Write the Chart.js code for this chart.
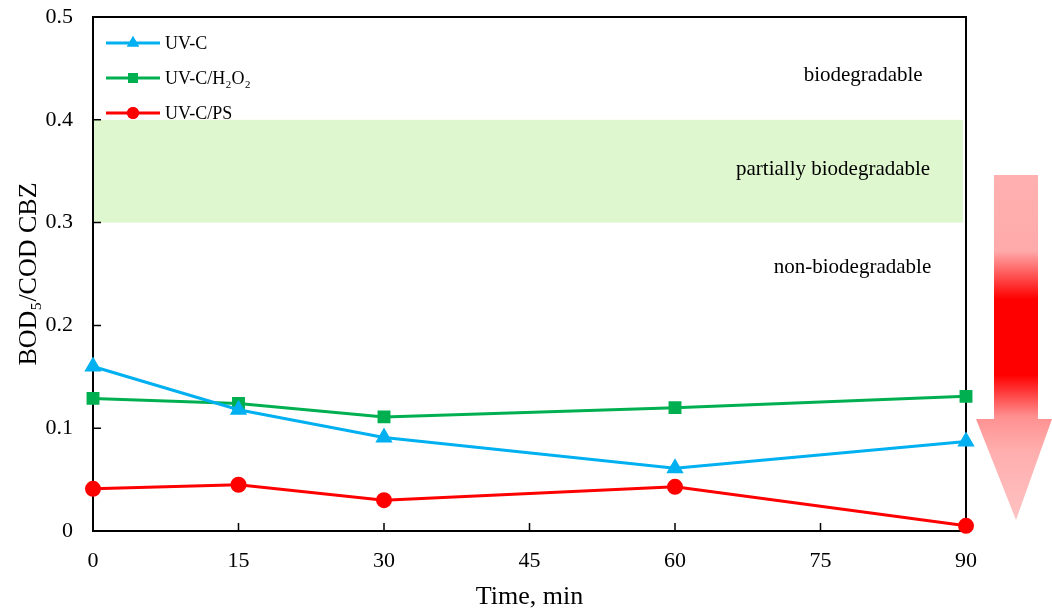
<!DOCTYPE html>
<html>
<head>
<meta charset="utf-8">
<script src="https://cdn.jsdelivr.net/npm/chart.js@4"></script>
<style>
  html, body { margin: 0; padding: 0; background: #fff; }
  #wrap { width: 1052px; height: 615px; }
</style>
</head>
<body>
<div id="wrap"><canvas id="myChart"></canvas></div>
<script>
const times = [0, 15, 30, 60, 90]
const uvc = [0.160, 0.118, 0.091, 0.061, 0.087]
const uvcH2O2 = [0.129, 0.124, 0.111, 0.120, 0.131]
const uvcPS = [0.041, 0.045, 0.030, 0.043, 0.005]
const xTicks = [0, 15, 30, 45, 60, 75, 90]
const yTicks = [0, 0.1, 0.2, 0.3, 0.4, 0.5]

const serif = '"Liberation Serif", "Times New Roman", serif'

const toPoints = (xs, ys) => xs.map((x, i) => ({ x: x, y: ys[i] }))

// kill the extra padding chart.js reserves for half tick labels
const noPad = s => {
    s.paddingTop = 0
    s.paddingBottom = 0
    s.paddingLeft = 0
    s.paddingRight = 0
}

// band, zone labels, frame, inward ticks, legend and the arrow
const extras = {
    id: 'extras',
    beforeDatasetsDraw(chart) {
        const { ctx, chartArea, scales } = chart
        const y1 = scales.y.getPixelForValue(0.4)
        const y2 = scales.y.getPixelForValue(0.3)
        ctx.save()
        ctx.fillStyle = '#dff7cf'
        ctx.fillRect(chartArea.left, y1, chartArea.width - 3, y2 - y1)

        ctx.fillStyle = '#000'
        ctx.font = '21px ' + serif
        ctx.textAlign = 'center'
        ctx.textBaseline = 'middle'
        const lbl = (t, x, y) => ctx.fillText(t, scales.x.getPixelForValue(x), scales.y.getPixelForValue(y))
        lbl('biodegradable', 79.4, 0.443)
        lbl('partially biodegradable', 76.3, 0.352)
        lbl('non-biodegradable', 78.3, 0.256)

        // frame
        ctx.strokeStyle = '#000'
        ctx.lineWidth = 2
        ctx.strokeRect(chartArea.left, chartArea.top, chartArea.width, chartArea.height)

        // inward tick marks
        ctx.lineWidth = 1.5
        ctx.beginPath()
        xTicks.forEach(v => {
            const px = scales.x.getPixelForValue(v)
            ctx.moveTo(px, chartArea.bottom)
            ctx.lineTo(px, chartArea.bottom - 8)
        })
        yTicks.forEach(v => {
            const py = scales.y.getPixelForValue(v)
            ctx.moveTo(chartArea.left, py)
            ctx.lineTo(chartArea.left + 8, py)
        })
        ctx.stroke()
        ctx.restore()
    },
    afterDraw(chart) {
        const { ctx } = chart
        ctx.save()

        // legend
        ctx.font = '18px ' + serif
        ctx.textBaseline = 'middle'
        ctx.textAlign = 'left'
        const rows = [43, 78, 113]
        chart.data.datasets.forEach((ds, i) => {
            const y = rows[i]
            ctx.strokeStyle = ds.borderColor
            ctx.fillStyle = ds.borderColor
            ctx.lineWidth = 3
            ctx.beginPath()
            ctx.moveTo(106, y)
            ctx.lineTo(160, y)
            ctx.stroke()
            Chart.helpers.drawPoint(ctx, {
                pointStyle: ds.pointStyle,
                radius: ds.legendRadius,
                borderWidth: 0,
                rotation: 0
            }, 133, y)
            ctx.fill()
            ctx.fillStyle = '#000'
            ctx.fillText(ds.label, 165, y + 1)
        })

        // big downward arrow
        const g = ctx.createLinearGradient(0, 175, 0, 520)
        g.addColorStop(0, '#ffb0b0')
        g.addColorStop(0.22, '#ffaaaa')
        g.addColorStop(0.36, '#ff0000')
        g.addColorStop(0.58, '#ff0000')
        g.addColorStop(0.7, '#ff9090')
        g.addColorStop(0.8, '#ffaeae')
        g.addColorStop(1, '#ffc2c2')
        ctx.fillStyle = g
        ctx.beginPath()
        ctx.moveTo(994, 175)
        ctx.lineTo(1038, 175)
        ctx.lineTo(1038, 419)
        ctx.lineTo(1052, 419)
        ctx.lineTo(1016, 520)
        ctx.lineTo(976, 419)
        ctx.lineTo(994, 419)
        ctx.closePath()
        ctx.fill()
        ctx.restore()
    }
}

const chart = () => {
    const ctx = document.getElementById('myChart')

    new Chart(ctx, {
        type: 'line',
        data: {
            datasets: [{
                label: 'UV-C',
                data: toPoints(times, uvc),
                borderColor: '#00b0f0',
                backgroundColor: '#00b0f0',
                pointStyle: 'triangle',
                pointRadius: 7,
                legendRadius: 7,
                borderWidth: 3
            }, {
                label: 'UV-C/H₂O₂',
                data: toPoints(times, uvcH2O2),
                borderColor: '#00b050',
                backgroundColor: '#00b050',
                pointStyle: 'rect',
                pointRadius: 7,
                legendRadius: 7,
                borderWidth: 3
            }, {
                label: 'UV-C/PS',
                data: toPoints(times, uvcPS),
                borderColor: '#ff0000',
                backgroundColor: '#ff0000',
                pointStyle: 'circle',
                pointRadius: 6.5,
                legendRadius: 6,
                borderWidth: 3
            }]
        },
        options: {
            responsive: true,
            maintainAspectRatio: false,
            animation: false,
            clip: false,
            layout: { padding: { left: 0, top: 17, right: 86, bottom: 0 } },
            elements: {
                line: { tension: 0 },
                point: { borderWidth: 0, hoverRadius: 7 }
            },
            plugins: {
                legend: { display: false },
                tooltip: { enabled: false }
            },
            scales: {
                x: {
                    type: 'linear',
                    min: 0,
                    max: 90,
                    afterFit: s => { s.height = 84; noPad(s) },
                    afterBuildTicks: s => { s.ticks = xTicks.map(v => ({ value: v })) },
                    grid: { display: false, drawTicks: false },
                    border: { display: false },
                    ticks: { color: '#000', font: { family: serif, size: 22 }, padding: 17 },
                    title: {
                        display: true,
                        text: 'Time, min',
                        color: '#000',
                        font: { family: serif, size: 26 },
                        padding: { top: 0, bottom: 2 }
                    }
                },
                y: {
                    min: 0,
                    max: 0.5,
                    afterFit: s => { s.width = 93; noPad(s) },
                    afterBuildTicks: s => { s.ticks = yTicks.map(v => ({ value: v })) },
                    grid: { display: false, drawTicks: false },
                    border: { display: false },
                    ticks: {
                        color: '#000',
                        font: { family: serif, size: 22 },
                        padding: 20,
                        callback: v => v === 0 ? '0' : v.toFixed(1)
                    },
                    title: {
                        display: true,
                        text: 'BOD₅/COD CBZ',
                        color: '#000',
                        font: { family: serif, size: 26 },
                        padding: { top: 14, bottom: 0 }
                    }
                }
            }
        },
        plugins: [extras]
    })
}

chart()
</script>
</body>
</html>
